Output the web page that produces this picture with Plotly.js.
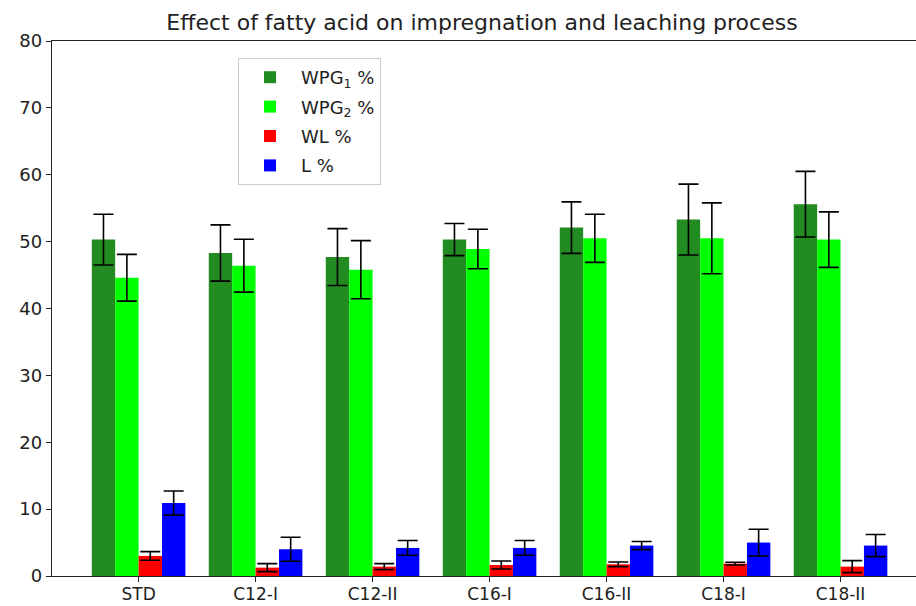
<!DOCTYPE html>
<html>
<head>
<meta charset="utf-8">
<script src="https://cdn.plot.ly/plotly-3.0.1.min.js"></script>
<style>body{margin:0;padding:0;background:#fff}#chart{width:916px;height:606px}</style>
</head>
<body>
<div id="chart"></div>
<script>
const categories = ["STD", "C12-I", "C12-II", "C16-I", "C16-II", "C18-I", "C18-II"];
const wpg1 = [50.3, 48.3, 47.7, 50.3, 52.1, 53.3, 55.6];
const wpg1Err = [3.8, 4.2, 4.25, 2.4, 3.85, 5.3, 4.9];
const wpg2 = [44.6, 46.4, 45.8, 48.9, 50.5, 50.5, 50.3];
const wpg2Err = [3.5, 3.95, 4.35, 2.95, 3.6, 5.3, 4.15];
const wl = [3.0, 1.25, 1.4, 1.65, 1.75, 1.85, 1.4];
const wlErr = [0.65, 0.6, 0.45, 0.6, 0.35, 0.2, 0.9];
const lv = [10.9, 4.0, 4.2, 4.2, 4.55, 5.0, 4.55];
const lErr = [1.8, 1.8, 1.1, 1.1, 0.6, 2.0, 1.65];
const seriesNames = ["WPG<sub>1</sub> %", "WPG<sub>2</sub> %", "WL %", "L %"];
const colors = ["#228B22", "#00FF00", "#FF0000", "#0000FF"];

const xIdx = categories.map((c, i) => i);
const vals = [wpg1, wpg2, wl, lv];
const errs = [wpg1Err, wpg2Err, wlErr, lErr];

const traces = vals.map((v, k) => ({
  type: "bar",
  x: xIdx,
  y: v,
  name: seriesNames[k],
  legendgroup: "g" + k,
  marker: {color: colors[k], line: {width: 0}},
  error_y: {type: "data", array: errs[k], visible: true, color: "#000", thickness: 1.6, width: 10}
}));

const FAM = "DejaVu Sans, sans-serif";
const tickFont = {family: FAM, size: 18, color: "#222"};
const layout = {
  width: 916, height: 606,
  margin: {l: 52, r: 0, t: 41, b: 30},
  paper_bgcolor: "#fff", plot_bgcolor: "#fff",
  font: tickFont,
  barmode: "group", bargap: 0.2, bargroupgap: 0,
  title: {text: "Effect of fatty acid on impregnation and leaching process", font: {family: FAM, size: 22, color: "#222"}, x: 482/916, xref: "container", xanchor: "center", y: 1 - 22/606, yref: "container", yanchor: "middle"},
  xaxis: {
    range: [-0.74, 6.645], tickmode: "array", tickvals: xIdx, ticktext: categories,
    showline: true, linecolor: "#222", linewidth: 1.3, mirror: true,
    ticks: "outside", ticklen: 5, tickcolor: "#222", showgrid: false, zeroline: false,
    tickfont: {family: FAM, size: 17, color: "#222"}, ticklabelstandoff: -3
  },
  yaxis: {
    range: [0, 80], dtick: 10, tick0: 0,
    showline: true, linecolor: "#222", linewidth: 1.3,
    ticks: "outside", ticklen: 5, tickcolor: "#222", showgrid: false, zeroline: false,
    tickfont: tickFont
  },
  showlegend: true,
  legend: {
    x: (238 - 52) / 864, y: (576 - 58) / 535, xanchor: "left", yanchor: "top",
    bgcolor: "rgba(255,255,255,0.8)", bordercolor: "#ccc", borderwidth: 1,
    font: {family: FAM, size: 18, color: "#222"},
    tracegroupgap: 3, itemwidth: 52
  }
};
Plotly.newPlot("chart", traces, layout, {displayModeBar: false, staticPlot: true});
</script>
</body>
</html>
